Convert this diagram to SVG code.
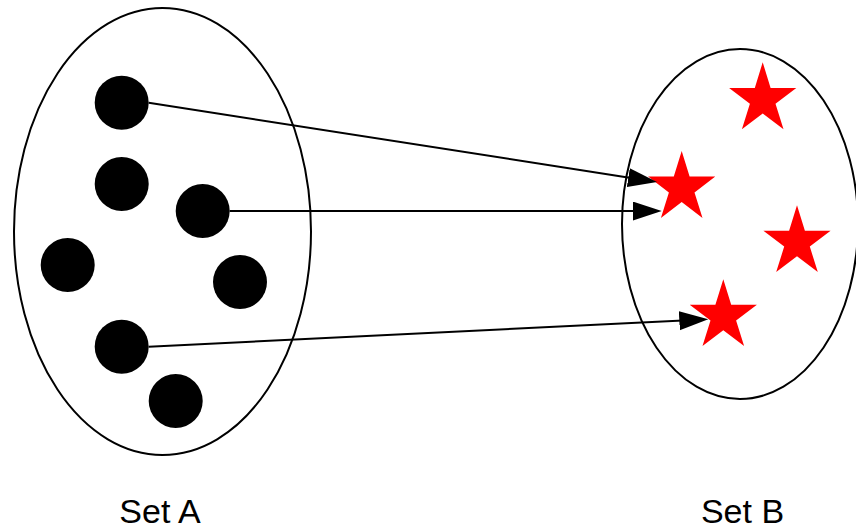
<svg xmlns="http://www.w3.org/2000/svg" width="856" height="531" viewBox="0 0 856 531">
<style>
.set{fill:none;stroke:#000;stroke-width:2}
.dot{fill:#000}
.star{fill:#ff0000}
.conn{stroke:#000;stroke-width:2;fill:none}
.lbl{font-family:"Liberation Sans",Arial,sans-serif;font-size:34px;fill:#000;text-anchor:middle}
</style>
<defs>
<path id="starShape" d="M0,-37 L7.9,-11.4 L33.6,-11.4 L12.8,4.4 L20.8,29.9 L0,14.1 L-20.8,29.9 L-12.8,4.4 L-33.6,-11.4 L-7.9,-11.4 Z"/>
<marker id="arrow" markerUnits="userSpaceOnUse" markerWidth="30" markerHeight="20" refX="19" refY="9.5" orient="auto" viewBox="0 0 30 20">
<path d="M0,0 L29,9.5 L0,19 Z" fill="#000"/>
</marker>
</defs>
<rect width="856" height="531" fill="#fff"/>
<g id="setA">
<ellipse class="set" cx="162.5" cy="231.5" rx="148.5" ry="223.5"/>
</g>
<g id="setB">
<ellipse class="set" cx="740" cy="224" rx="118" ry="175"/>
</g>
<g id="a1"><circle class="dot" cx="121.7" cy="102.7" r="27"/></g>
<g id="a2"><circle class="dot" cx="121.7" cy="184" r="27"/></g>
<g id="a3"><circle class="dot" cx="202.7" cy="211" r="27"/></g>
<g id="a4"><circle class="dot" cx="67.7" cy="265" r="27"/></g>
<g id="a5"><circle class="dot" cx="240" cy="282" r="27"/></g>
<g id="a6"><circle class="dot" cx="121.7" cy="346.7" r="27"/></g>
<g id="a7"><circle class="dot" cx="175.7" cy="401" r="27"/></g>
<g id="b1"><use href="#starShape" class="star" transform="translate(762.7,99.3)"/></g>
<g id="b2"><use href="#starShape" class="star" transform="translate(681.7,188)"/></g>
<g id="b3"><use href="#starShape" class="star" transform="translate(797,242.2)"/></g>
<g id="b4"><use href="#starShape" class="star" transform="translate(723.3,316.2)"/></g>
<g id="connectors">
<line class="conn" x1="148.7" y1="102.7" x2="647.1" y2="180.5" marker-end="url(#arrow)"/>
<line class="conn" x1="229.7" y1="211" x2="651.7" y2="211" marker-end="url(#arrow)"/>
<line class="conn" x1="148.7" y1="346.7" x2="698.3" y2="319.8" marker-end="url(#arrow)"/>
</g>
<g id="labels">
<text class="lbl" x="160" y="523">Set A</text>
<text class="lbl" x="742.5" y="523">Set B</text>
</g>
</svg>
